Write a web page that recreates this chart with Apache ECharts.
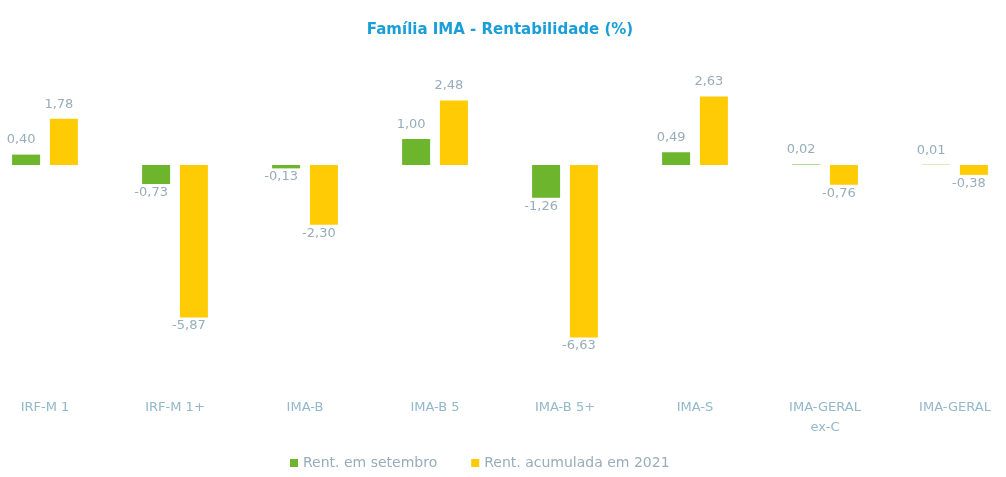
<!DOCTYPE html>
<html>
<head>
<meta charset="utf-8">
<script src="https://cdn.jsdelivr.net/npm/echarts@6/dist/echarts.min.js"></script>
<style>
  html, body { margin: 0; padding: 0; background: #fff; overflow: hidden; }
  /* o gráfico original está recortado nas bordas: área um pouco mais larga, deslocada */
  #chart { width: 1040px; height: 477px; margin-left: -20px; }
</style>
</head>
<body>
<div id="chart"></div>
<script>
// categorias e séries
const categories = ['IRF-M 1', 'IRF-M 1+', 'IMA-B', 'IMA-B 5', 'IMA-B 5+', 'IMA-S', 'IMA-GERAL\nex-C', 'IMA-GERAL']
const rentSetembro = [0.40, -0.73, -0.13, 1.00, -1.26, 0.49, 0.02, 0.01]
const rentAcumulada = [1.78, -5.87, -2.30, 2.48, -6.63, 2.63, -0.76, -0.38]

const fmt = v => v.toFixed(2).replace('.', ',')

const toItems = arr => arr.map(v => ({
  value: v,
  label: { position: v >= 0 ? 'top' : 'bottom' }
}))

const chart = echarts.init(document.getElementById('chart'))

const labelStyle = {
  show: true,
  color: '#97adba',
  fontSize: 13,
  fontFamily: 'DejaVu Sans',
  offset: [-5, -3],
  formatter: p => fmt(p.value)
}

const option = {
  animation: false,
  title: {
    text: 'Família IMA - Rentabilidade (%)',
    left: 'center',
    top: 18,
    textStyle: {
      color: '#1a9ed8',
      fontSize: 15,
      fontWeight: 'bold',
      fontFamily: 'DejaVu Sans'
    }
  },
  legend: {
    bottom: 2,
    left: 305,
    itemWidth: 8,
    itemHeight: 8,
    itemGap: 34,
    icon: 'rect',
    textStyle: { color: '#97adba', fontSize: 14, fontFamily: 'DejaVu Sans' },
    data: ['Rent. em setembro', 'Rent. acumulada em 2021']
  },
  grid: {
    left: 0,
    right: 0,
    top: 61,
    height: 325
  },
  xAxis: {
    type: 'category',
    data: categories,
    axisLine: { show: false, onZero: false },
    axisTick: { show: false },
    axisLabel: {
      interval: 0,
      margin: 12,
      color: '#92b8cb',
      fontSize: 13,
      fontFamily: 'DejaVu Sans',
      lineHeight: 20
    }
  },
  yAxis: {
    type: 'value',
    min: -8.5,
    max: 4,
    show: false,
    splitLine: { show: false }
  },
  series: [
    {
      name: 'Rent. em setembro',
      type: 'bar',
      data: toItems(rentSetembro),
      barWidth: 28,
      barGap: '35%',
      itemStyle: { color: '#6cb52d' },
      label: labelStyle
    },
    {
      name: 'Rent. acumulada em 2021',
      type: 'bar',
      data: toItems(rentAcumulada),
      barWidth: 28,
      itemStyle: { color: '#ffcb05' },
      label: labelStyle
    }
  ]
}

chart.setOption(option)
</script>
</body>
</html>
